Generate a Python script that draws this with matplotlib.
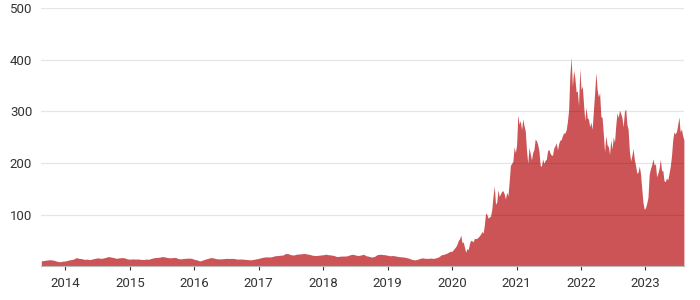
import numpy as np
import matplotlib.pyplot as plt

# split-adjusted closing price
# 2013-2019: two readings per month, 2020-2023: weekly
p2013 = [10.0, 11.0, 11.6, 12.4, 12.0, 10.8, 9.0, 8.4, 9.6]
p2014 = [10.0, 11.5, 12.5, 13.5, 16.5, 15.0, 14.5, 13.0, 13.5, 12.5, 13.8, 15.0,
         16.0, 15.0, 15.5, 17.0, 18.5, 17.5, 16.5, 15.0, 16.0, 16.5, 16.0, 14.0]
p2015 = [13.3, 14.0, 13.5, 13.8, 13.0, 12.8, 13.5, 13.2, 15.0, 16.2, 16.8, 17.2,
         18.5, 17.8, 16.5, 16.0, 16.5, 16.8, 14.5, 14.0, 14.8, 15.2, 15.5, 15.0]
p2016 = [13.0, 12.0, 10.0, 11.5, 13.5, 14.8, 16.5, 16.0, 14.5, 14.0, 14.0, 14.5,
         15.0, 14.8, 15.0, 14.5, 13.5, 13.8, 13.5, 13.0, 12.5, 12.2, 13.0, 14.0]
p2017 = [15.0, 16.5, 17.5, 18.0, 17.5, 18.5, 20.0, 20.5, 21.0, 21.5, 24.5, 24.0,
         22.0, 21.5, 23.0, 23.5, 24.0, 24.5, 23.5, 22.5, 21.0, 20.5, 20.8, 21.5]
p2018 = [22.0, 23.0, 22.0, 21.5, 20.5, 18.5, 19.0, 19.5, 19.5, 20.0, 22.0, 23.0,
         21.5, 20.5, 21.5, 23.0, 20.0, 19.0, 17.5, 18.5, 22.0, 23.0, 22.5, 22.0]
p2019 = [21.0, 20.0, 20.5, 19.5, 18.5, 18.0, 17.5, 16.5, 15.0, 13.0, 12.0, 13.0,
         15.0, 16.0, 15.0, 15.0, 15.5, 15.0, 16.0, 18.0, 22.0, 23.0, 25.0, 28.0]
p2020 = [29, 32, 35, 38, 43, 50, 53, 60, 45, 47, 36, 27,
         34, 32, 44, 50, 49, 47, 54, 53, 54, 56, 59, 62,
         67, 64, 80, 103, 100, 93, 95, 97, 110, 136, 155, 120,
         124, 148, 135, 140, 145, 146, 140, 130, 143, 136, 163, 195,
         199, 203, 231, 220]
p2021 = [235, 293, 275, 282, 264, 285, 272, 262, 225, 199, 230, 218,
         206, 220, 226, 246, 243, 236, 224, 196, 193, 208, 199, 205,
         207, 224, 226, 219, 215, 215, 229, 233, 239, 225, 238, 244,
         245, 253, 258, 258, 264, 280, 303, 371, 405, 348, 379, 365,
         338, 339, 311, 383]
p2022 = [342, 349, 315, 282, 308, 287, 285, 270, 279, 265, 302, 337,
         375, 342, 328, 336, 290, 288, 256, 221, 253, 235, 232, 217,
         245, 227, 250, 240, 272, 297, 288, 302, 296, 288, 270, 299,
         305, 275, 265, 223, 204, 214, 228, 207, 195, 180, 182, 194,
         179, 150, 123, 110]
p2023 = [113, 122, 133, 178, 189, 196, 208, 196, 198, 173, 180, 190,
         207, 185, 185, 165, 164, 171, 167, 180, 193, 214, 245, 260,
         256, 261, 274, 289, 260, 266, 253, 244]

year_ticks = list(range(2014, 2024))
y_ticks = [100, 200, 300, 400, 500]

x, y = [], []
for i, v in enumerate(p2013):
    x.append(2013.625 + i / 24); y.append(v)
for yr, arr in [(2014, p2014), (2015, p2015), (2016, p2016), (2017, p2017),
                (2018, p2018), (2019, p2019)]:
    for i, v in enumerate(arr):
        x.append(yr + i / 24); y.append(v)
for yr, arr in [(2020, p2020), (2021, p2021), (2022, p2022), (2023, p2023)]:
    for i, v in enumerate(arr):
        x.append(yr + i / 52); y.append(v)
x = np.array(x); y = np.array(y)

plt.rcParams['font.family'] = ['Roboto', 'DejaVu Sans']
fig = plt.figure(figsize=(7, 3), dpi=100)
ax = fig.add_axes([0.059, 0.113, 0.918, 0.86])

ax.fill_between(x, y, 0, color='#cd5456', lw=0, zorder=1)
for t in y_ticks:
    ax.axhline(t, color='black', alpha=0.1, lw=0.9, zorder=2)

ax.set_xlim(x[0], x[-1])
ax.set_ylim(0, 500)
ax.set_xticks(year_ticks)
ax.set_xticklabels([str(t) for t in year_ticks])
ax.set_yticks(y_ticks)
ax.set_yticklabels([str(t) for t in y_ticks])

ax.tick_params(axis='x', length=3, width=0.8, color='#333333', pad=5,
               labelsize=9.5, labelcolor='#333333')
ax.tick_params(axis='y', length=0, pad=6.5, labelsize=9.5, labelcolor='#333333')
for s in ['top', 'right', 'left']:
    ax.spines[s].set_visible(False)
ax.spines['bottom'].set_color('#bbbbbb')
ax.spines['bottom'].set_linewidth(0.8)

fig.savefig('out.png', dpi=100)
